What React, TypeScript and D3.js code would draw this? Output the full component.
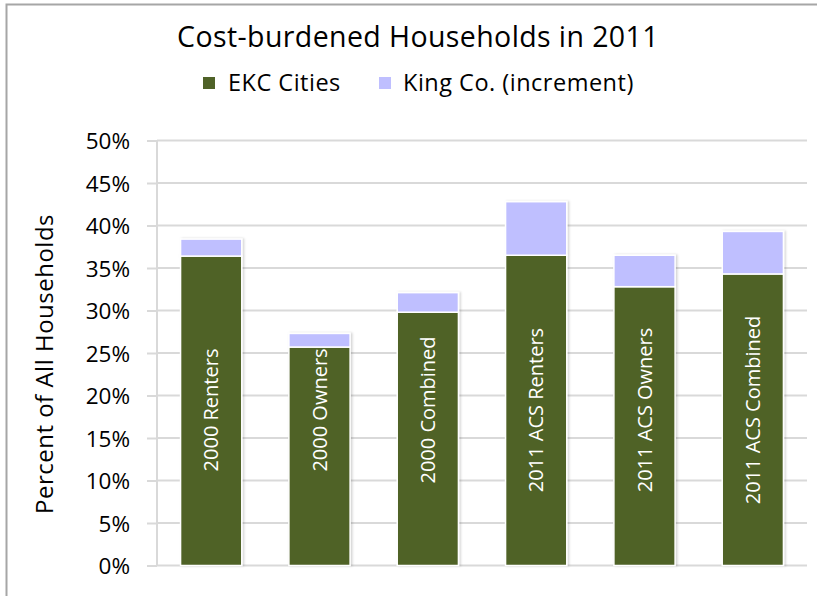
import * as d3 from "d3";
import { useRef, useEffect } from "react";

const categories = [
  "2000 Renters",
  "2000 Owners",
  "2000 Combined",
  "2011 ACS Renters",
  "2011 ACS Owners",
  "2011 ACS Combined",
];
const ekcCities = [36.4, 25.7, 29.8, 36.5, 32.8, 34.3];
const kingIncrement = [2.0, 1.6, 2.3, 6.3, 3.7, 5.0];
const yTicks = [0, 5, 10, 15, 20, 25, 30, 35, 40, 45, 50];
const seriesNames = ["EKC Cities", "King Co. (increment)"];

const GREEN = "#4F6228";
const LAVENDER = "#BFBFFF";
const FONT = "'Open Sans', sans-serif";

export default function App() {
  const width = 817;
  const height = 596;
  const marginLeft = 157;
  const marginRight = 10;
  const marginTop = 140.5;
  const marginBottom = 30.5;

  const gy = useRef<SVGGElement>(null);

  const x = d3
    .scaleBand<string>()
    .domain(categories)
    .range([marginLeft, width - marginRight])
    .paddingInner(0.435)
    .paddingOuter(0.2175);
  const y = d3.scaleLinear([0, 50], [height - marginBottom, marginTop]);

  const rows = categories.map((c, i) => ({ cat: c, ekc: ekcCities[i], king: kingIncrement[i] }));
  const stacked = d3.stack<any>().keys(["ekc", "king"])(rows);
  const colors = [GREEN, LAVENDER];

  useEffect(() => {
    const g = d3.select(gy.current);
    g.selectAll("*").remove();
    g.call(
      d3
        .axisLeft(y)
        .tickValues(yTicks)
        .tickSize(10)
        .tickPadding(17)
        .tickFormat((d) => `${d}%`)
    );
    g.select(".domain").remove();
    g.selectAll(".tick line").attr("stroke", "#D9D9D9").attr("stroke-width", 2);
    g.selectAll(".tick text")
      .attr("font-family", FONT)
      .attr("font-size", 22.5)
      .attr("fill", "#000")
      .attr("dy", "0.36em");
  }, []);

  return (
    <svg width={width} height={height} style={{ position: "absolute", left: 0, top: 0 }}>
      <defs>
        <filter id="shadow" x="-10%" y="-10%" width="130%" height="120%">
          <feDropShadow dx="1.5" dy="0" stdDeviation="1.2" floodColor="#000" floodOpacity="0.18" />
        </filter>
      </defs>
      <rect x={0} y={0} width={width} height={height} fill="#fff" />
      <rect x={6.5} y={4.5} width={width + 10} height={height + 10} fill="none" stroke="#A6A6A6" strokeWidth={2} />

      {/* gridlines */}
      {yTicks.map((t) => (
        <line key={t} x1={marginLeft} x2={width - marginRight} y1={y(t)} y2={y(t)} stroke="#D9D9D9" strokeWidth={2} />
      ))}
      <line x1={marginLeft} x2={marginLeft} y1={marginTop} y2={height - marginBottom} stroke="#D9D9D9" strokeWidth={2} />
      <g ref={gy} transform={`translate(${marginLeft},0)`} />

      <g filter="url(#shadow)">
        {stacked.map((s, si) =>
          s.map((d: any, i: number) => (
            <rect
              key={`${si}-${i}`}
              x={x(categories[i])}
              width={x.bandwidth()}
              y={y(d[1])}
              height={y(d[0]) - y(d[1])}
              fill={colors[si]}
              stroke="#fff"
              strokeWidth={1.5}
            />
          ))
        )}
      </g>

      {categories.map((c) => (
        <text
          key={c}
          transform={`translate(${(x(c) as number) + x.bandwidth() / 2},410) rotate(-90)`}
          textAnchor="middle"
          dy="0.35em"
          fill="#fff"
          fontFamily={FONT}
          fontSize={20}
        >
          {c}
        </text>
      ))}

      <text x={418} y={47} textAnchor="middle" fontFamily={FONT} fontSize={28.5} letterSpacing={0.4} fill="#000">
        Cost-burdened Households in 2011
      </text>

      <g fontFamily={FONT} fontSize={23.5} letterSpacing={0.5} fill="#000">
        <rect x={203} y={77} width={12} height={12} fill={colors[0]} />
        <text x={228} y={91}>{seriesNames[0]}</text>
        <rect x={379} y={77} width={12} height={12} fill={colors[1]} />
        <text x={403} y={91}>{seriesNames[1]}</text>
      </g>

      <text
        transform={`translate(45,364) rotate(-90)`}
        textAnchor="middle"
        dy="0.35em"
        fontFamily={FONT}
        fontSize={24}
        letterSpacing={0.5}
        fill="#000"
      >
        Percent of All Households
      </text>
    </svg>
  );
}
